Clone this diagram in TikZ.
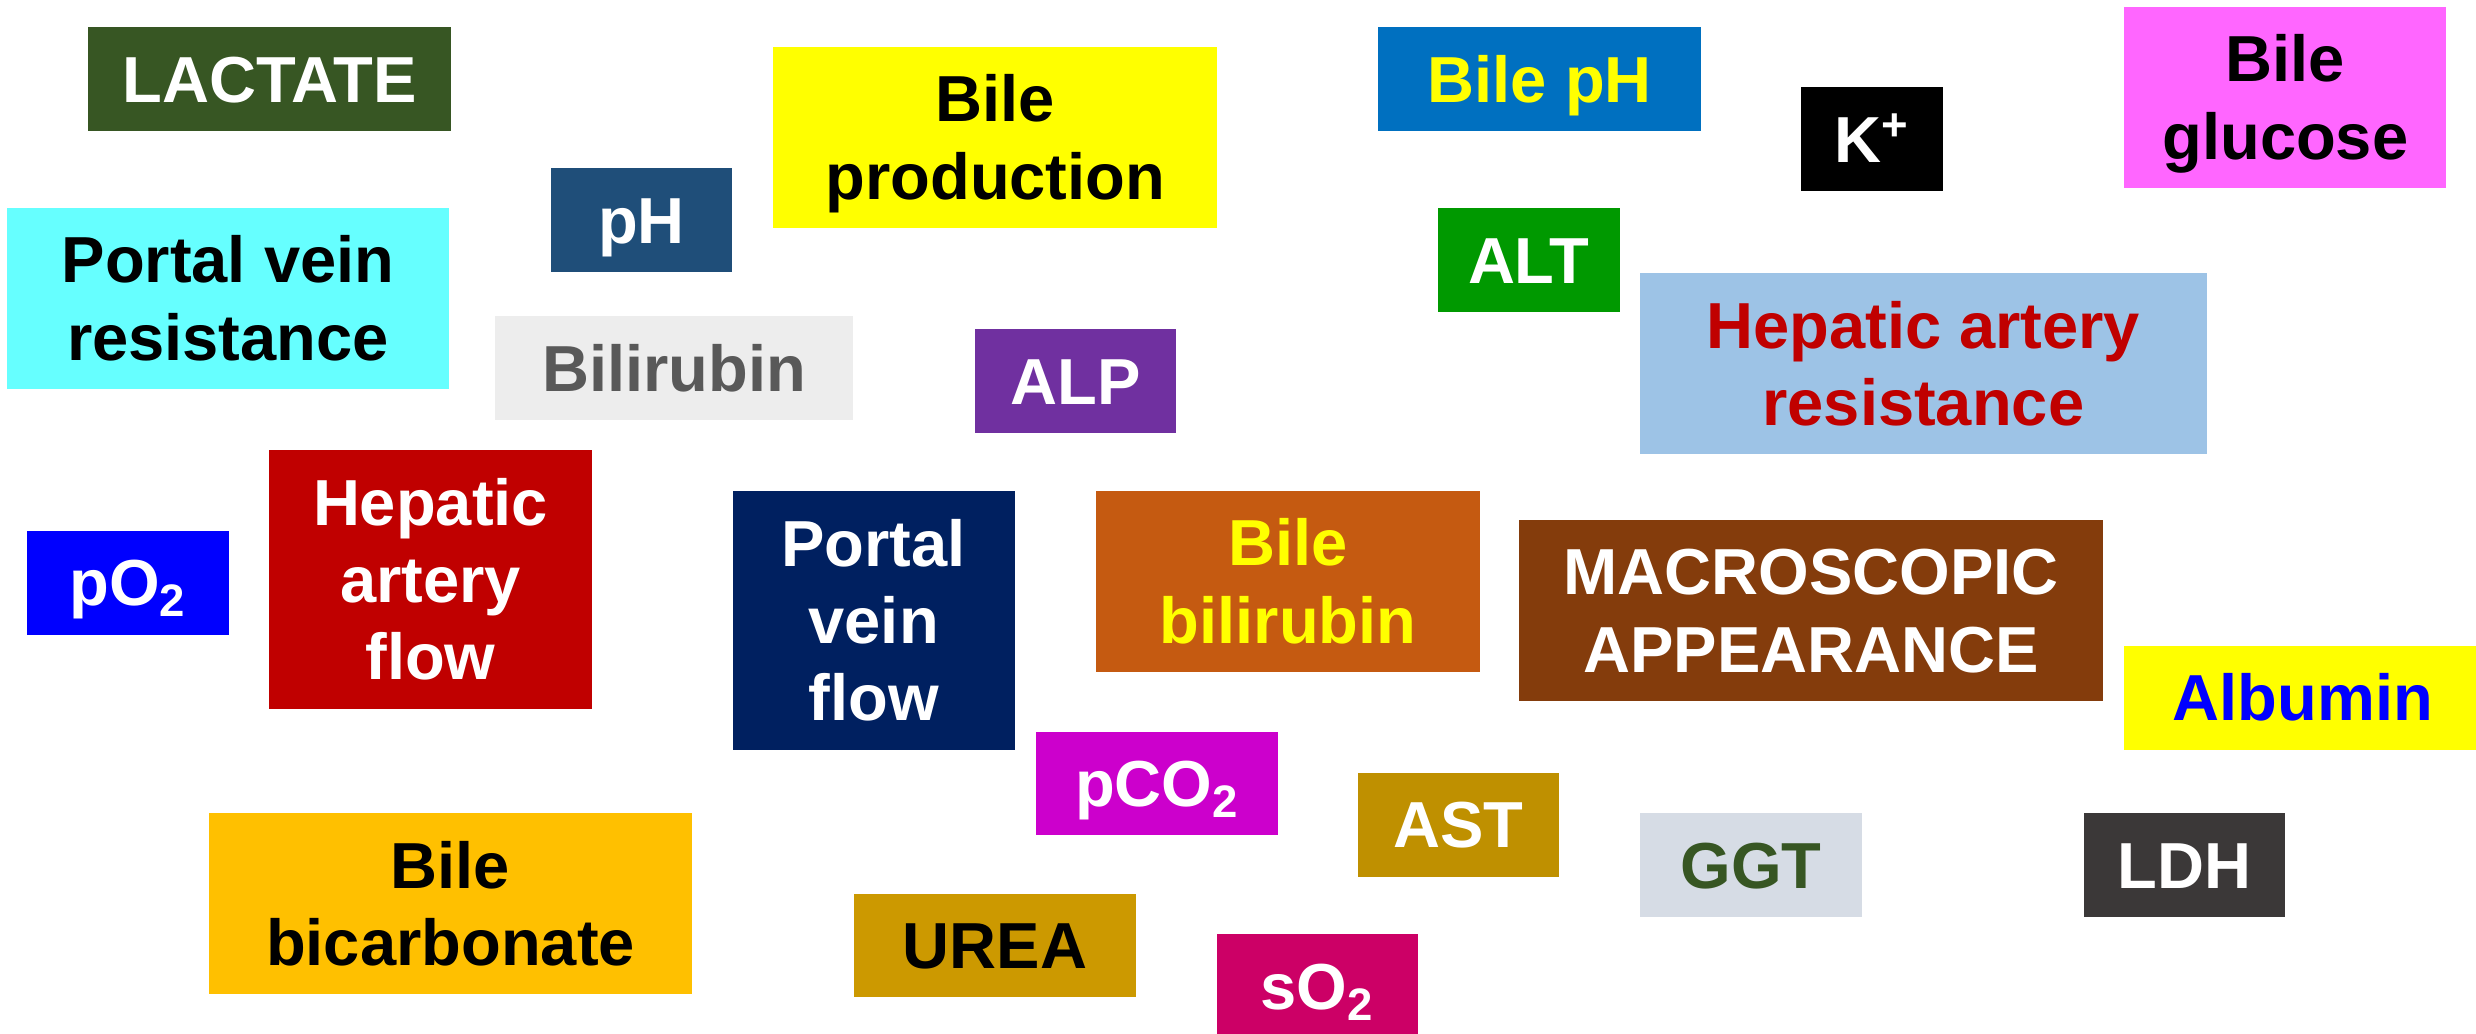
\documentclass[tikz,border=0pt]{standalone}
\usepackage{fontspec}
\setmainfont{Liberation Sans}
\definecolor{cLactate}{HTML}{375623}
\definecolor{yellowA}{HTML}{FFFF00}
\definecolor{cBilepH}{HTML}{0070C0}
\definecolor{cGlucose}{HTML}{FF66FF}
\definecolor{cpH}{HTML}{1F4E79}
\definecolor{cPVR}{HTML}{66FFFF}
\definecolor{cALT}{HTML}{009900}
\definecolor{cHAR}{HTML}{9DC3E6}
\definecolor{cRed}{HTML}{C00000}
\definecolor{cBilirubin}{HTML}{EDEDED}
\definecolor{cGrayText}{HTML}{595959}
\definecolor{cALP}{HTML}{7030A0}
\definecolor{blueA}{HTML}{0000FF}
\definecolor{cPVF}{HTML}{002060}
\definecolor{cBileBili}{HTML}{C55A11}
\definecolor{cMacro}{HTML}{843C0C}
\definecolor{cpCO}{HTML}{CC00CC}
\definecolor{cAST}{HTML}{BF9000}
\definecolor{cGGT}{HTML}{D6DCE5}
\definecolor{cLDH}{HTML}{3B3838}
\definecolor{cBicarb}{HTML}{FFC000}
\definecolor{cUrea}{HTML}{CC9900}
\definecolor{cSO}{HTML}{CC0066}
\newcommand\mylines[1]{\begin{tabular}[t]{@{}c@{}}#1\end{tabular}}
\begin{document}
\begin{tikzpicture}[x=0.01cm,y=-0.01cm,
  box/.style={rectangle, inner sep=0pt, outer sep=0pt, text=black,
    font=\fontsize{18.5}{22}\selectfont\bfseries, text height=13.2pt},
  one/.style={box, text depth=0pt, minimum height=1.037cm},
  two/.style={box, text depth=22pt, minimum height=1.807cm},
  three/.style={box, text depth=44pt, minimum height=2.586cm}]
\useasboundingbox (0,0) rectangle (2476,1034);
\fill[white] (0,0) rectangle (2476,1034);
\node[one, fill=cLactate, text=white, minimum width=3.635cm] (lactate) at (269.5,78.9) {LACTATE};
\node[two, fill=yellowA, minimum width=4.44cm] (bileprod) at (995.3,137.4) {\mylines{Bile\\production}};
\node[one, fill=cBilepH, text=yellowA, minimum width=3.23cm] (bileph) at (1539.7,78.9) {Bile pH};
\node[one, fill=black, text=white, minimum width=1.415cm] (k) at (1872,138.9) {K\textsuperscript{+}};
\node[two, fill=cGlucose, minimum width=3.221cm] (glucose) at (2285.3,97.4) {\mylines{Bile\\glucose}};
\node[one, fill=cpH, text=white, minimum width=1.809cm] (ph) at (641.4,219.9) {pH};
\node[two, fill=cPVR, minimum width=4.416cm] (pvr) at (228,298.4) {\mylines{Portal vein\\resistance}};
\node[one, fill=cALT, text=white, minimum width=1.821cm] (alt) at (1528.8,259.9) {ALT};
\node[two, fill=cHAR, text=cRed, minimum width=5.661cm, minimum height=1.813cm] (har) at (1923.3,363.7) {\mylines{Hepatic artery\\resistance}};
\node[one, fill=cBilirubin, text=cGrayText, minimum width=3.58cm] (bili) at (674,367.9) {Bilirubin};
\node[one, fill=cALP, text=white, minimum width=2.009cm] (alp) at (1075.5,380.9) {ALP};
\node[one, fill=blueA, text=white, minimum width=2.017cm] (po2) at (128,582.7) {pO\textsubscript{2}};
\node[three, fill=cRed, text=white, minimum width=3.236cm] (haf) at (430.5,579.4) {\mylines{Hepatic\\artery\\flow}};
\node[three, fill=cPVF, text=white, minimum width=2.822cm] (pvf) at (873.7,620.3) {\mylines{Portal\\vein\\flow}};
\node[two, fill=cBileBili, text=yellowA, minimum width=3.838cm] (bilebili) at (1288,581.3) {\mylines{Bile\\bilirubin}};
\node[two, fill=cMacro, text=white, minimum width=5.841cm] (macro) at (1811,610.4) {\mylines{MACROSCOPIC\\APPEARANCE}};
\node[one, fill=yellowA, text=blueA, minimum width=3.576cm] (albumin) at (2303,697.7) {Albumin};
\node[one, fill=cpCO, text=white, minimum width=2.418cm] (pco2) at (1157.2,783.6) {pCO\textsubscript{2}};
\node[one, fill=cAST, text=white, minimum width=2.01cm] (ast) at (1458.4,824.7) {AST};
\node[one, fill=cGGT, text=cLactate, minimum width=2.213cm] (ggt) at (1750.9,864.9) {GGT};
\node[one, fill=cLDH, text=white, minimum width=2.01cm] (ldh) at (2184.8,864.9) {LDH};
\node[two, fill=cBicarb, minimum width=4.831cm] (bicarb) at (450.5,903.5) {\mylines{Bile\\bicarbonate}};
\node[one, fill=cUrea, minimum width=2.822cm] (urea) at (994.9,945.5) {UREA};
\node[one, fill=cSO, text=white, minimum width=2.008cm] (so2) at (1317.7,986) {sO\textsubscript{2}};
\end{tikzpicture}
\end{document}
